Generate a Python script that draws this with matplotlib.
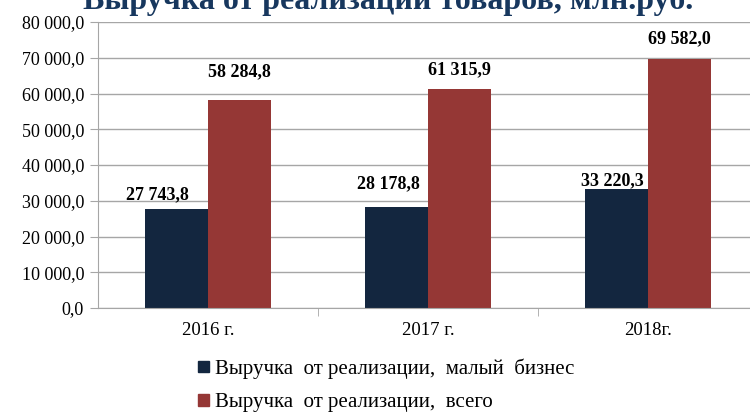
import numpy as np
import matplotlib
matplotlib.use('Agg')
from matplotlib import pyplot as plt
from matplotlib.patches import Patch

# Data
years = ['2016 г.', '2017 г.', '2018г.']
small_business = [27743.8, 28178.8, 33220.3]
total = [58284.8, 61315.9, 69582.0]
series_names = ['Выручка  от реализации,  малый  бизнес', 'Выручка  от реализации,  всего']
title = 'Выручка от реализации товаров, млн.руб.'

navy = '#13263f'
red = '#953735'
grid_col = '#a6a6a6'

plt.rcParams['font.family'] = ['Liberation Serif', 'DejaVu Serif']

fig = plt.figure(figsize=(7.5, 4.17), dpi=100)
ax = fig.add_axes([98 / 750, 109 / 417, 660 / 750, 286 / 417])

x = np.arange(len(years))
w = 0.287
b1 = ax.bar(x - w / 2, small_business, w, color=navy)
b2 = ax.bar(x + w / 2, total, w, color=red)

ax.set_xlim(-0.5, 2.5)
ax.set_ylim(0, 80000)
ax.set_yticks(np.arange(0, 80001, 10000))
ax.set_yticklabels([f'{int(v):,}'.replace(',', ' ') + ',0' for v in np.arange(0, 80001, 10000)])
ax.set_xticks(x)
ax.set_xticklabels(years)
ax.set_xticks([0.5, 1.5], minor=True)
ax.tick_params(axis='x', which='major', length=0, pad=10, labelsize=13.5)
ax.tick_params(axis='x', which='minor', length=6, color=grid_col)
ax.tick_params(axis='y', length=6, color=grid_col, pad=4, labelsize=13)

ax.grid(axis='y', color=grid_col, linewidth=1)
ax.set_axisbelow(True)
for s in ['top', 'right']:
    ax.spines[s].set_visible(False)
ax.spines['left'].set_color(grid_col)
ax.spines['bottom'].set_color(grid_col)

def fmt(v):
    s = f'{v:,.1f}'.replace(',', ' ').replace('.', ',')
    return s

# value labels (manual offsets in pixels as in the reference)
offs1 = [(-19, 14), (-8, 24), (-4, 9)]
offs2 = [(0, 28), (0, 19), (0, 21)]
for i in range(len(years)):
    ax.annotate(fmt(small_business[i]), (x[i] - w / 2, small_business[i]),
                xytext=offs1[i], textcoords='offset pixels', ha='center', va='center',
                fontsize=13, fontweight='bold')
    ax.annotate(fmt(total[i]), (x[i] + w / 2, total[i]),
                xytext=offs2[i], textcoords='offset pixels', ha='center', va='center',
                fontsize=13, fontweight='bold')

fig.text(388 / 750, 1 - 9 / 417, title, ha='center', va='baseline', fontsize=23,
         fontweight='bold', color='#17375e')

handles = [Patch(color=navy), Patch(color=red)]
fig.legend(handles, series_names, loc='upper left', bbox_to_anchor=(188 / 750, 1 - 348 / 417),
           frameon=False, fontsize=15, handlelength=0.5, handleheight=0.5,
           handletextpad=0.3, labelspacing=0.7, borderpad=0)

fig.savefig('out.png', dpi=100)
